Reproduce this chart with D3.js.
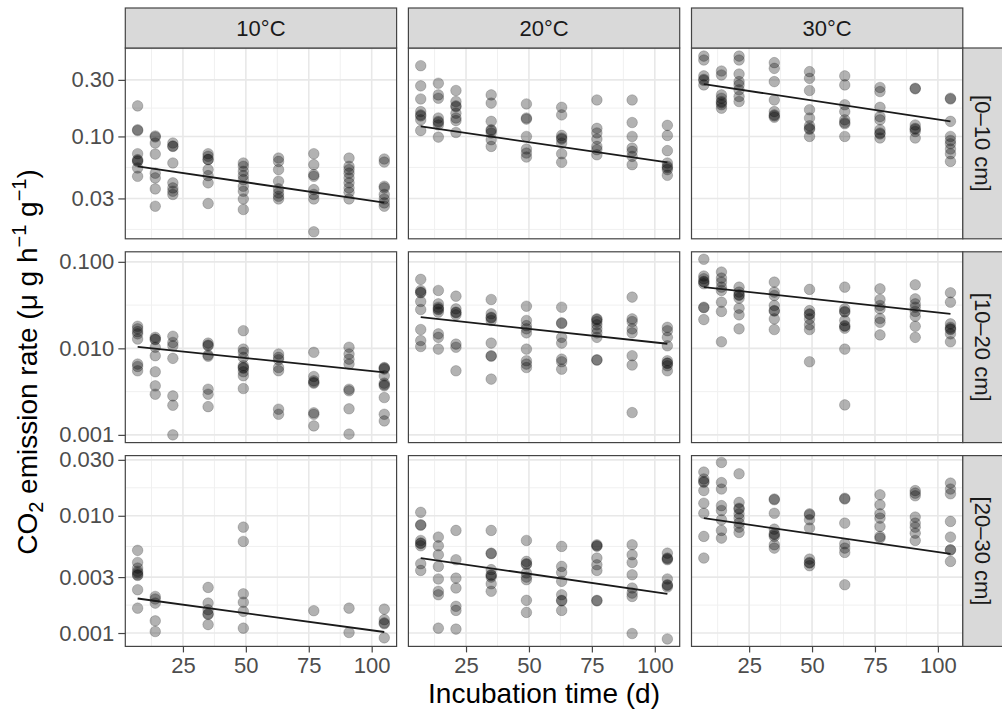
<!DOCTYPE html>
<html>
<head>
<meta charset="utf-8">
<script src="https://cdn.jsdelivr.net/npm/d3@7"></script>
<style>
  body { margin: 0; background: #fff; }
  text { font-family: "Liberation Sans", Arial, Helvetica, sans-serif; }
</style>
</head>
<body>
<div class="canvas"></div>
<script>
// facet labels
var temps = ["10°C", "20°C", "30°C"];
var depths = ["[0–10 cm]", "[10–20 cm]", "[20–30 cm]"];

// sampling days
var days = [7, 14, 21, 35, 49, 63, 77, 91, 105];
var xDomain = [2.1, 109.9];
var xTicks = [25, 50, 75, 100];
var xMinor = [12.5, 37.5, 62.5, 87.5];

// y scales, one per depth row (log10)
var yDomains = [[0.0137, 0.557], [0.000814, 0.1306], [0.000769, 0.0326]];
var yTicks = [[0.03, 0.1, 0.3], [0.001, 0.01, 0.1], [0.001, 0.003, 0.01, 0.03]];
var yTickLabels = [["0.03", "0.10", "0.30"], ["0.001", "0.010", "0.100"], ["0.001", "0.003", "0.010", "0.030"]];
var yMinor = [[0.01644, 0.0548, 0.1733, 0.548], [0.00316, 0.0316], [0.00173, 0.00548, 0.01733]];

// fitted line, value at day 7 and day 105 (row = depth, col = temperature)
var fitStart = [[0.056, 0.1214, 0.276], [0.0104, 0.0229, 0.051], [0.00197, 0.00435, 0.00955]];
var fitEnd = [[0.0276, 0.0605, 0.134], [0.00527, 0.0113, 0.025], [0.00102, 0.00216, 0.00473]];

// CO2 rates, one list per sampling day
var r1c1 = [
  [0.181, 0.114, 0.112, 0.0715, 0.0637, 0.0616, 0.0625, 0.0542, 0.0461],
  [0.101, 0.099, 0.088, 0.071, 0.049, 0.0447, 0.0361, 0.0258],
  [0.088, 0.0824, 0.083, 0.0597, 0.0406, 0.0368, 0.0345, 0.0324],
  [0.0715, 0.068, 0.0637, 0.064, 0.0525, 0.0467, 0.0406, 0.0272],
  [0.0597, 0.056, 0.0508, 0.0467, 0.0432, 0.038, 0.0345, 0.0297, 0.0242],
  [0.0657, 0.0616, 0.0525, 0.0419, 0.0361, 0.0334, 0.0313, 0.0297],
  [0.0715, 0.0578, 0.0476, 0.0461, 0.0356, 0.0324, 0.0297, 0.0157],
  [0.0657, 0.056, 0.0525, 0.049, 0.0447, 0.0406, 0.0368, 0.0338, 0.0297],
  [0.0645, 0.0608, 0.038, 0.0368, 0.0324, 0.0297, 0.0275, 0.0258]
];
var r1c2 = [
  [0.395, 0.267, 0.207, 0.162, 0.152, 0.149, 0.138, 0.112],
  [0.281, 0.224, 0.21, 0.143, 0.134, 0.131, 0.125, 0.0987],
  [0.244, 0.197, 0.181, 0.178, 0.157, 0.143, 0.136, 0.108],
  [0.224, 0.191, 0.134, 0.114, 0.112, 0.107, 0.0938, 0.0824],
  [0.188, 0.143, 0.14, 0.1, 0.0783, 0.0724, 0.067],
  [0.176, 0.152, 0.102, 0.097, 0.095, 0.088, 0.0715, 0.0605],
  [0.203, 0.117, 0.107, 0.095, 0.0824, 0.0773, 0.07],
  [0.203, 0.131, 0.1, 0.0798, 0.0748, 0.0679, 0.0578],
  [0.124, 0.102, 0.0759, 0.0597, 0.056, 0.0545, 0.0525, 0.047]
];
var r1c3 = [
  [0.476, 0.441, 0.324, 0.303, 0.297, 0.272],
  [0.356, 0.33, 0.224, 0.21, 0.197, 0.192, 0.185, 0.173],
  [0.476, 0.441, 0.336, 0.29, 0.272, 0.247, 0.217, 0.197],
  [0.419, 0.375, 0.29, 0.203, 0.162, 0.152, 0.149, 0.145],
  [0.352, 0.309, 0.244, 0.168, 0.143, 0.123, 0.117, 0.115, 0.1],
  [0.324, 0.272, 0.185, 0.162, 0.138, 0.131, 0.128, 0.1],
  [0.259, 0.239, 0.176, 0.147, 0.138, 0.114, 0.107, 0.105, 0.097],
  [0.255, 0.252, 0.125, 0.117, 0.115, 0.11, 0.097],
  [0.21, 0.207, 0.134, 0.1, 0.0925, 0.0868, 0.0783, 0.0715, 0.0616]
];
var r2c1 = [
  [0.018, 0.0168, 0.0156, 0.0147, 0.0128, 0.00658, 0.00618, 0.0055],
  [0.0134, 0.0128, 0.0126, 0.0103, 0.00822, 0.00536, 0.00369, 0.00295],
  [0.0138, 0.0117, 0.0107, 0.00766, 0.00282, 0.0022, 0.001],
  [0.0115, 0.0109, 0.0107, 0.00837, 0.0081, 0.00337, 0.00295, 0.00212],
  [0.016, 0.0098, 0.009, 0.00786, 0.0063, 0.006, 0.0059, 0.00536, 0.00482, 0.00343],
  [0.0086, 0.00786, 0.00739, 0.006, 0.00551, 0.00198, 0.00173],
  [0.009, 0.00473, 0.00421, 0.00405, 0.00396, 0.0018, 0.00173, 0.00127],
  [0.0103, 0.0086, 0.0075, 0.00658, 0.00337, 0.00323, 0.002, 0.00102],
  [0.006, 0.00576, 0.0059, 0.00482, 0.00396, 0.00369, 0.0038, 0.0027, 0.00173, 0.00145]
];
var r2c2 = [
  [0.0627, 0.0467, 0.0439, 0.0445, 0.0348, 0.0281, 0.0165, 0.0123, 0.0105],
  [0.0467, 0.0327, 0.0299, 0.0286, 0.028, 0.0262, 0.0147, 0.0134, 0.0098],
  [0.0401, 0.0286, 0.0262, 0.0258, 0.0244, 0.0112, 0.0103, 0.0055],
  [0.0367, 0.0251, 0.0229, 0.0225, 0.021, 0.0115, 0.00822, 0.0081, 0.00441],
  [0.0307, 0.021, 0.0183, 0.0168, 0.0151, 0.0098, 0.00719, 0.00658, 0.006],
  [0.0299, 0.0197, 0.0194, 0.0134, 0.0115, 0.0075, 0.007, 0.00575],
  [0.0219, 0.0215, 0.0204, 0.0187, 0.0168, 0.0151, 0.0134, 0.00739, 0.0073],
  [0.0391, 0.0219, 0.0204, 0.0168, 0.0151, 0.00822, 0.00641, 0.00181],
  [0.0175, 0.016, 0.0134, 0.0107, 0.00719, 0.00676, 0.0067, 0.00629, 0.0055]
];
var r2c3 = [
  [0.107, 0.0685, 0.0638, 0.0594, 0.0585, 0.0558, 0.0299, 0.0295, 0.0215],
  [0.0762, 0.0649, 0.0583, 0.051, 0.0467, 0.0342, 0.0267, 0.0119],
  [0.051, 0.0447, 0.0416, 0.041, 0.038, 0.0291, 0.0244, 0.0168],
  [0.0583, 0.0447, 0.0408, 0.0313, 0.0273, 0.027, 0.0219, 0.0165],
  [0.048, 0.0273, 0.025, 0.0246, 0.0219, 0.0187, 0.0165, 0.007],
  [0.051, 0.0286, 0.0267, 0.0263, 0.021, 0.0183, 0.018, 0.0171, 0.0098, 0.00222],
  [0.0488, 0.0367, 0.0313, 0.0286, 0.0221, 0.02, 0.0143],
  [0.0543, 0.0373, 0.0327, 0.0299, 0.0267, 0.0235, 0.018, 0.0134],
  [0.0439, 0.0342, 0.0192, 0.0175, 0.0168, 0.0165, 0.0147, 0.0119]
];
var r3c1 = [
  [0.00507, 0.004, 0.00358, 0.00336, 0.00325, 0.00314, 0.0031, 0.00234, 0.00163],
  [0.00205, 0.00195, 0.0018, 0.00127, 0.00103],
  [],
  [0.00245, 0.0018, 0.00158, 0.00146, 0.00144, 0.00118],
  [0.008, 0.00604, 0.00216, 0.00183, 0.00153, 0.0011],
  [],
  [0.00155],
  [0.00163, 0.00101],
  [0.0016, 0.0013, 0.00122, 0.0012, 0.00091]
];
var r3c2 = [
  [0.0107, 0.00838, 0.0083, 0.00616, 0.00585, 0.0058, 0.00555, 0.0039, 0.00342],
  [0.00658, 0.00555, 0.00465, 0.0037, 0.00289, 0.00227, 0.00212, 0.0011],
  [0.0075, 0.00422, 0.00294, 0.00242, 0.00169, 0.00156, 0.00108],
  [0.0075, 0.0048, 0.00475, 0.00347, 0.00314, 0.0031, 0.003, 0.00263, 0.00227],
  [0.00616, 0.00408, 0.0039, 0.00385, 0.00325, 0.003, 0.00285, 0.0019, 0.0015],
  [0.00548, 0.0037, 0.00329, 0.00276, 0.00212, 0.0019, 0.00188, 0.00156],
  [0.00566, 0.00555, 0.0055, 0.00436, 0.00382, 0.00342, 0.0019, 0.00188],
  [0.00566, 0.00465, 0.004, 0.00314, 0.00242, 0.00219, 0.00205, 0.00099],
  [0.0048, 0.00436, 0.0043, 0.00422, 0.00289, 0.00258, 0.00255, 0.00247, 0.00089]
];
var r3c3 = [
  [0.0236, 0.0206, 0.0196, 0.0193, 0.0164, 0.0128, 0.0105, 0.00667, 0.00436],
  [0.0285, 0.0192, 0.0169, 0.0122, 0.0111, 0.00925, 0.0075, 0.00645],
  [0.0228, 0.013, 0.0116, 0.0114, 0.0104, 0.00955, 0.00866, 0.008, 0.00721],
  [0.0139, 0.0137, 0.0105, 0.00769, 0.00703, 0.0069, 0.00667, 0.00566, 0.0053],
  [0.0104, 0.0102, 0.00925, 0.00785, 0.00427, 0.004, 0.00395, 0.00375],
  [0.0141, 0.0139, 0.00866, 0.00577, 0.0053, 0.00487, 0.00258],
  [0.0151, 0.0124, 0.0104, 0.00955, 0.00811, 0.00667, 0.00645],
  [0.0164, 0.0156, 0.0148, 0.00975, 0.00866, 0.008, 0.00711, 0.00616],
  [0.019, 0.0169, 0.0154, 0.00895, 0.00658, 0.00513, 0.0051, 0.00408]
];
var rates = [[r1c1, r1c2, r1c3], [r2c1, r2c2, r2c3], [r3c1, r3c2, r3c3]];

var width = 1002, height = 713;
var marginLeft = 125.3, marginTop = 48, panelW = 271.3, panelH = 190.8;
var gapX = 11.8, gapY = 13, strip = 40;

var svg = d3.select(".canvas").append("svg")
    .attr("width", width)
    .attr("height", height);

var x = d3.scaleLinear().domain(xDomain).range([0, panelW]);

for (var r = 0; r < 3; r++) {
    var y = d3.scaleLog().domain(yDomains[r]).range([panelH, 0]);
    var py = marginTop + r * (panelH + gapY);

    for (var c = 0; c < 3; c++) {
        var px = marginLeft + c * (panelW + gapX);
        var g = svg.append("g").attr("transform", "translate(" + px + "," + py + ")");

        g.append("rect").attr("width", panelW).attr("height", panelH).attr("fill", "#fff");

        // minor grid
        g.selectAll(".vminor").data(xMinor).enter().append("line")
            .attr("x1", d => x(d)).attr("x2", d => x(d))
            .attr("y1", 0).attr("y2", panelH)
            .attr("stroke", "#f0f0f0").attr("stroke-width", 1);
        g.selectAll(".hminor").data(yMinor[r]).enter().append("line")
            .attr("x1", 0).attr("x2", panelW)
            .attr("y1", d => y(d)).attr("y2", d => y(d))
            .attr("stroke", "#f0f0f0").attr("stroke-width", 1);
        // major grid
        g.selectAll(".vmajor").data(xTicks).enter().append("line")
            .attr("x1", d => x(d)).attr("x2", d => x(d))
            .attr("y1", 0).attr("y2", panelH)
            .attr("stroke", "#e8e8e8").attr("stroke-width", 1.6);
        g.selectAll(".hmajor").data(yTicks[r]).enter().append("line")
            .attr("x1", 0).attr("x2", panelW)
            .attr("y1", d => y(d)).attr("y2", d => y(d))
            .attr("stroke", "#e8e8e8").attr("stroke-width", 1.6);

        // points
        var pts = [];
        rates[r][c].forEach(function(vals, i) {
            vals.forEach(function(v) { pts.push({day: days[i], rate: v}); });
        });
        g.selectAll("circle").data(pts).enter().append("circle")
            .attr("cx", d => x(d.day))
            .attr("cy", d => y(d.rate))
            .attr("r", 5.3)
            .attr("fill", "#000").attr("fill-opacity", 0.3)
            .attr("stroke", "#000").attr("stroke-opacity", 0.18).attr("stroke-width", 1);

        // fitted line
        var fit = [{day: days[0], rate: fitStart[r][c]}, {day: days[days.length - 1], rate: fitEnd[r][c]}];
        g.append("path")
            .attr("d", d3.line().x(d => x(d.day)).y(d => y(d.rate))(fit))
            .attr("fill", "none").attr("stroke", "#1a1a1a").attr("stroke-width", 1.8);

        // border
        g.append("rect").attr("width", panelW).attr("height", panelH)
            .attr("fill", "none").attr("stroke", "#444").attr("stroke-width", 1.2);

        // top strips
        if (r == 0) {
            svg.append("rect")
                .attr("x", px).attr("y", marginTop - strip)
                .attr("width", panelW).attr("height", strip)
                .attr("fill", "#d9d9d9").attr("stroke", "#444").attr("stroke-width", 1.2);
            svg.append("text")
                .attr("x", px + panelW / 2).attr("y", marginTop - strip / 2)
                .attr("text-anchor", "middle").attr("dominant-baseline", "central")
                .attr("font-size", 22).attr("fill", "#1a1a1a")
                .text(temps[c]);
        }

        // x axis on bottom row
        if (r == 2) {
            var xa = g.append("g").attr("transform", "translate(0," + panelH + ")")
                .call(d3.axisBottom(x).tickValues(xTicks).tickSize(6).tickPadding(5));
            styleAxis(xa);
        }
    }

    // y axis on left column
    var ya = svg.append("g").attr("transform", "translate(" + marginLeft + "," + py + ")")
        .call(d3.axisLeft(y).tickValues(yTicks[r]).tickSize(7).tickPadding(4)
            .tickFormat((d, i) => yTickLabels[r][i]));
    styleAxis(ya);

    // right strips
    var sx = marginLeft + 3 * panelW + 2 * gapX;
    svg.append("rect")
        .attr("x", sx).attr("y", py)
        .attr("width", strip).attr("height", panelH)
        .attr("fill", "#d9d9d9").attr("stroke", "#444").attr("stroke-width", 1.2);
    svg.append("text")
        .attr("transform", "translate(" + (sx + strip / 2) + "," + (py + panelH / 2) + ") rotate(90)")
        .attr("text-anchor", "middle").attr("dominant-baseline", "central")
        .attr("font-size", 22).attr("fill", "#1a1a1a")
        .text(depths[r]);
}

function styleAxis(a) {
    a.select(".domain").remove();
    a.selectAll(".tick line").attr("stroke", "#444").attr("stroke-width", 1.2);
    a.selectAll(".tick text")
        .attr("font-size", 22)
        .attr("font-family", "Liberation Sans, Arial, sans-serif")
        .attr("fill", "#4d4d4d");
}

// axis titles
svg.append("text")
    .attr("x", marginLeft + (3 * panelW + 2 * gapX) / 2)
    .attr("y", 703)
    .attr("text-anchor", "middle")
    .attr("font-size", 28).attr("fill", "#000")
    .text("Incubation time (d)");

var yt = svg.append("text")
    .attr("transform", "translate(37,362) rotate(-90)")
    .attr("text-anchor", "middle")
    .attr("font-size", 28).attr("fill", "#000");
yt.append("tspan").text("CO");
yt.append("tspan").attr("dy", 6).attr("font-size", 20).text("2");
yt.append("tspan").attr("dy", -6).text(" emission rate (μ g h");
yt.append("tspan").attr("dy", -11).attr("font-size", 20).text("−1");
yt.append("tspan").attr("dy", 11).text(" g");
yt.append("tspan").attr("dy", -11).attr("font-size", 20).text("−1");
yt.append("tspan").attr("dy", 11).text(")");
</script>
</body>
</html>
